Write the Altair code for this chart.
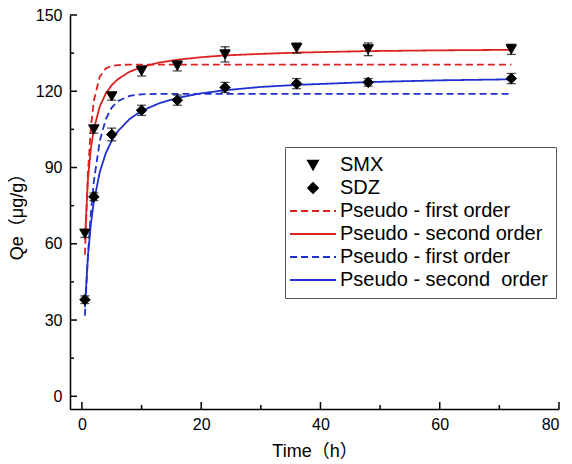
import altair as alt
import pandas as pd

# ---- measured data ----
t_obs = [0.5, 2, 5, 10, 16, 24, 36, 48, 72]
smx_q = [64.0, 105.0, 118.0, 128.0, 130.0, 134.5, 137.0, 136.5, 136.5]
smx_err = [1.5, 1.5, 1.5, 2.0, 2.0, 3.0, 2.0, 2.5, 2.0]
sdz_q = [38.0, 78.5, 103.0, 112.5, 116.5, 121.5, 123.0, 123.5, 125.0]
sdz_err = [1.5, 1.5, 2.5, 2.0, 2.0, 2.0, 2.0, 1.5, 2.0]

# ---- fitted curves ----
t_fit = [0.5, 1, 1.5, 2, 3, 4, 5, 6, 8, 10, 13, 16, 20, 24, 30, 36, 48, 60, 72]
smx_pfo = [55.7, 87.5, 105.8, 116.3, 125.8, 129.0, 130.0, 130.3, 130.5, 130.5, 130.5,
           130.5, 130.5, 130.5, 130.5, 130.5, 130.5, 130.5, 130.5]
smx_pso = [61.6, 85.1, 97.5, 105.1, 114.1, 119.1, 122.4, 124.7, 127.7, 129.5, 131.3,
           132.4, 133.4, 134.1, 134.7, 135.2, 135.8, 136.1, 136.3]
sdz_pfo = [31.7, 55.0, 72.0, 84.6, 100.5, 109.0, 113.6, 116.1, 118.2, 118.8, 119.0,
           119.0, 119.0, 119.0, 119.0, 119.0, 119.0, 119.0, 119.0]
sdz_pso = [35.0, 54.9, 67.7, 76.6, 88.3, 95.6, 100.6, 104.2, 109.1, 112.3, 115.3,
           117.4, 119.2, 120.4, 121.7, 122.5, 123.6, 124.3, 124.7]

series_keys = ["SMX", "SDZ", "PFO_SMX", "PSO_SMX", "PFO_SDZ", "PSO_SDZ"]
series_labels = ["SMX", "SDZ", "Pseudo - first order", "Pseudo - second order",
                 "Pseudo - first order", "Pseudo - second\u00a0 order"]

y_major = [0, 30, 60, 90, 120, 150]
y_minor = [15, 45, 75, 105, 135]
x_major = [0, 20, 40, 60, 80]
x_minor = [10, 30, 50, 70]

# ---- tables ----
obs = pd.DataFrame(
    [{"t": t, "q": q, "lo": q - e, "hi": q + e, "series": "SMX"} for t, q, e in zip(t_obs, smx_q, smx_err)]
    + [{"t": t, "q": q, "lo": q - e, "hi": q + e, "series": "SDZ"} for t, q, e in zip(t_obs, sdz_q, sdz_err)]
)
fit_rows = []
for key, vals in [("PFO_SMX", smx_pfo), ("PSO_SMX", smx_pso), ("PFO_SDZ", sdz_pfo), ("PSO_SDZ", sdz_pso)]:
    for t, q in zip(t_fit, vals):
        fit_rows.append({"t": t, "q": q, "series": key})
fit = pd.DataFrame(fit_rows)

RED = "#dd2020"
BLUE = "#1f2fd0"
LINE_PATH = "M-4.6,0H4.6"

label_expr = " : ".join(
    f"datum.label == '{k}' ? '{l}'" for k, l in zip(series_keys, series_labels)
) + " : datum.label"

W, H = 489, 394
xs = alt.Scale(domain=[-2, 80], nice=False, zero=False)
ys = alt.Scale(domain=[-5, 150], nice=False, zero=False)

fill_scale = alt.Scale(domain=series_keys, range=["black", "black", "transparent", "transparent", "transparent", "transparent"])
stroke_scale = alt.Scale(domain=series_keys, range=["black", "black", RED, RED, BLUE, BLUE])
shape_scale = alt.Scale(domain=series_keys, range=["triangle-down", "diamond", LINE_PATH, LINE_PATH, LINE_PATH, LINE_PATH])
dash_scale = alt.Scale(domain=series_keys, range=[[1, 0], [1, 0], [7, 4], [1, 0], [7, 4], [1, 0]])

legend = alt.Legend(title=None, labelExpr=label_expr)

x_enc = alt.X("t:Q", scale=xs, title="Time（h）",
              axis=alt.Axis(values=x_major, ticks=False, labelPadding=7, titlePadding=10))
y_enc = alt.Y("q:Q", scale=ys, title="Qe（μg/g）",
              axis=alt.Axis(values=y_major, ticks=False, labelPadding=8, titlePadding=9))

lines = alt.Chart(fit).mark_line(strokeWidth=1.8).encode(
    x=x_enc, y=y_enc,
    stroke=alt.Stroke("series:N", scale=stroke_scale, legend=legend),
    strokeDash=alt.StrokeDash("series:N", scale=dash_scale, legend=legend),
)

err_rule = alt.Chart(obs).mark_rule(color="black", strokeWidth=1.2).encode(
    x="t:Q", y="lo:Q", y2="hi:Q"
)
err_cap_lo = alt.Chart(obs).mark_tick(color="black", orient="horizontal", size=9, thickness=1.3).encode(
    x="t:Q", y="lo:Q"
)
err_cap_hi = alt.Chart(obs).mark_tick(color="black", orient="horizontal", size=9, thickness=1.3).encode(
    x="t:Q", y="hi:Q"
)

points = alt.Chart(obs).mark_point(filled=True, size=110, opacity=1, strokeWidth=1).encode(
    x="t:Q", y="q:Q",
    fill=alt.Fill("series:N", scale=fill_scale, legend=legend),
    stroke=alt.Stroke("series:N", scale=stroke_scale, legend=legend),
    shape=alt.Shape("series:N", scale=shape_scale, legend=legend),
)

ym = pd.DataFrame({"v": y_major})
yn = pd.DataFrame({"v": y_minor})
xm = pd.DataFrame({"v": x_major})
xn = pd.DataFrame({"v": x_minor})
ytick_major = alt.Chart(ym).mark_rule(color="black", strokeWidth=1.5).encode(
    y=alt.Y("v:Q"), x=alt.value(0), x2=alt.value(7))
ytick_minor = alt.Chart(yn).mark_rule(color="black", strokeWidth=1.5).encode(
    y=alt.Y("v:Q"), x=alt.value(0), x2=alt.value(4))
xtick_major = alt.Chart(xm).mark_rule(color="black", strokeWidth=1.5).encode(
    x=alt.X("v:Q"), y=alt.value(H), y2=alt.value(H - 7))
xtick_minor = alt.Chart(xn).mark_rule(color="black", strokeWidth=1.5).encode(
    x=alt.X("v:Q"), y=alt.value(H), y2=alt.value(H - 4))

chart = alt.layer(
    lines, err_rule, err_cap_lo, err_cap_hi, points,
    ytick_major, ytick_minor, xtick_major, xtick_minor,
).properties(
    width=W, height=H,
    autosize=alt.AutoSizeParams(type="none"),
    padding={"left": 62, "top": 7, "right": 5, "bottom": 55},
).configure_view(stroke=None).configure_axis(
    grid=False,
    domainColor="black", domainWidth=1.5,
    labelFont="Liberation Sans", labelFontSize=16, labelColor="black",
    titleFont="Liberation Sans, Noto Sans CJK SC", titleFontSize=18, titleFontWeight="normal", titleColor="black",
).configure_legend(
    orient="none", legendX=215, legendY=132,
    strokeColor="#555555", padding=8, rowPadding=3,
    labelFont="Liberation Sans", labelFontSize=20, labelColor="black", labelLimit=400,
    symbolSize=100, symbolStrokeWidth=1.8, symbolOffset=10, labelOffset=17,
)

chart.save("out.html", embed_options={"renderer": "svg", "actions": False})
